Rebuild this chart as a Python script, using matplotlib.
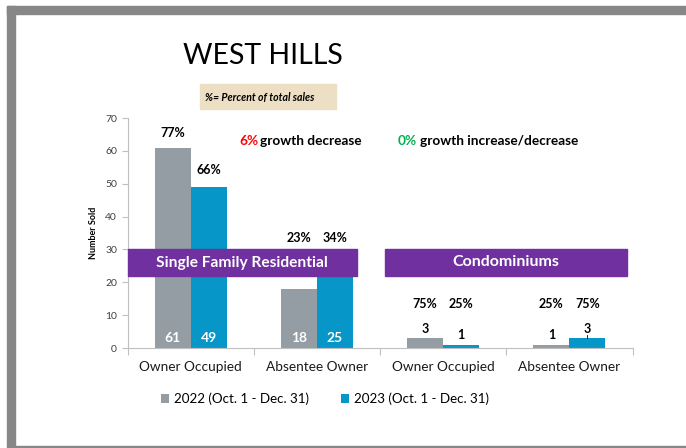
import matplotlib
matplotlib.use("Agg")
import matplotlib.pyplot as plt
from matplotlib.patches import Rectangle
import numpy as np

plt.rcParams['font.family'] = ['Lato', 'DejaVu Sans']

categories = ["Owner Occupied", "Absentee Owner", "Owner Occupied", "Absentee Owner"]
series_names = ["2022 (Oct. 1 - Dec. 31)", "2023 (Oct. 1 - Dec. 31)"]
values_2022 = [61, 18, 3, 1]
values_2023 = [49, 25, 1, 3]
pct_2022 = ["77%", "23%", "75%", "25%"]
pct_2023 = ["66%", "34%", "25%", "75%"]
yticks = [0, 10, 20, 30, 40, 50, 60, 70]

GRAY = "#959DA4"
BLUE = "#0796C8"
PURPLE = "#7030A0"
FRAME = "#878787"

W, H = 686, 448
fig = plt.figure(figsize=(W / 100, H / 100), dpi=100)
fig.patch.set_facecolor("white")

def fx(px):
    return px / W

def fy(py):
    return 1 - py / H

# frame
fig.patches.append(Rectangle((fx(7), fy(14)), 1 - fx(7), 8 / H, transform=fig.transFigure,
                             color=FRAME, zorder=0))
fig.patches.append(Rectangle((fx(7), fy(446)), 8 / W, (446 - 6) / H, transform=fig.transFigure,
                             color=FRAME, zorder=0))
fig.patches.append(Rectangle((fx(7), fy(448)), 1 - fx(7), 2 / H, transform=fig.transFigure,
                             color=FRAME, zorder=0))

ax = fig.add_axes([fx(127.5), fy(348), (632.5 - 127.5) / W, (348 - 118) / H])
x = np.arange(len(categories))
bw = 0.285
ax.bar(x - bw / 2, values_2022, bw, color=GRAY, label=series_names[0], zorder=2)
ax.bar(x + bw / 2, values_2023, bw, color=BLUE, label=series_names[1], zorder=2)

ax.set_xlim(-0.5, len(categories) - 0.5)
ax.set_ylim(0, 70)
ax.set_yticks(yticks)
ax.tick_params(axis='y', labelsize=7.5, colors="#404040", length=4, color="#BFBFBF", width=0.8)
ax.set_xticks(x)
ax.set_xticklabels(categories, fontsize=9.8, color="#1a1a1a")
ax.tick_params(axis='x', length=0, pad=9)
ax.set_xticks(np.arange(-0.5, len(categories)), minor=True)
ax.tick_params(axis='x', which='minor', length=5, color="#BFBFBF", width=0.8)
for s in ["top", "right"]:
    ax.spines[s].set_visible(False)
for s in ["left", "bottom"]:
    ax.spines[s].set_color("#BFBFBF")
    ax.spines[s].set_linewidth(0.8)
ax.set_ylabel("Number Sold", fontsize=6.5, fontweight="bold", labelpad=5)

# in-bar values for single family
for i in range(2):
    ax.text(x[i] - bw / 2, 1.3, str(values_2022[i]), ha="center", va="bottom",
            color="white", fontweight="bold", fontsize=10, zorder=5)
    ax.text(x[i] + bw / 2, 1.3, str(values_2023[i]), ha="center", va="bottom",
            color="white", fontweight="bold", fontsize=10, zorder=5)

# percent labels
pct_y_2022 = [63.5, 31.8, 11.5, 11.5]
pct_y_2023 = [52.3, 31.8, 11.5, 11.5]
for i in range(len(categories)):
    ax.text(x[i] - bw / 2, pct_y_2022[i], pct_2022[i], ha="center", va="bottom",
            fontweight="bold", fontsize=9, zorder=5)
    ax.text(x[i] + bw / 2, pct_y_2023[i], pct_2023[i], ha="center", va="bottom",
            fontweight="bold", fontsize=9, zorder=5)

# count labels above condo bars
for i in [2, 3]:
    ax.text(x[i] - bw / 2, values_2022[i] + 1.0, str(values_2022[i]), ha="center",
            va="bottom", fontweight="bold", fontsize=9, zorder=5)
    ax.text(x[i] + bw / 2, values_2023[i] + 1.0, str(values_2023[i]), ha="center",
            va="bottom", fontweight="bold", fontsize=9, zorder=5)
ax.plot([x[3] + bw / 2, x[3] + bw / 2], [values_2023[3], values_2023[3] + 1.0],
        color="black", lw=0.6, zorder=5)

# purple bands
fig.patches.append(Rectangle((fx(127.5), fy(276)), (357 - 127.5) / W, 27 / H,
                             transform=fig.transFigure, color=PURPLE, zorder=10))
fig.patches.append(Rectangle((fx(385), fy(276)), (627 - 385) / W, 27 / H,
                             transform=fig.transFigure, color=PURPLE, zorder=10))
fig.text(fx(242), fy(262.5), "Single Family Residential", ha="center", va="center",
         color="white", fontweight="bold", fontsize=11.2, zorder=11)
fig.text(fx(506), fy(262.5), "Condominiums", ha="center", va="center",
         color="white", fontweight="bold", fontsize=11.5, zorder=11)

# title and subtitle
fig.text(fx(263), fy(56), "WEST HILLS", ha="center", va="center", fontsize=20.5, color="black")
fig.patches.append(Rectangle((fx(200), fy(109)), 136 / W, 25 / H, transform=fig.transFigure,
                             color="#EDDFC3", zorder=1))
fig.text(fx(205), fy(97), "%= Percent of total sales", ha="left", va="center",
         fontsize=7.6, fontweight="bold", fontstyle="italic", zorder=2)

# growth notes
fig.text(fx(239), fy(141), "6%", color="#FF0000", fontweight="bold", fontsize=9.8,
         ha="left", va="center")
fig.text(fx(260), fy(141), "growth decrease", color="black", fontweight="bold",
         fontsize=9.8, ha="left", va="center")
fig.text(fx(398), fy(141), "0%", color="#00B050", fontweight="bold", fontsize=9.8,
         ha="left", va="center")
fig.text(fx(420), fy(141), "growth increase/decrease", color="black", fontweight="bold",
         fontsize=9.8, ha="left", va="center")

leg = fig.legend(loc="center", bbox_to_anchor=(fx(325), fy(399)), ncol=2, frameon=False,
                 fontsize=9.6, handlelength=0.6, handleheight=0.6, handletextpad=0.4,
                 columnspacing=2.4)

fig.savefig("out.png", dpi=100, facecolor="white")
